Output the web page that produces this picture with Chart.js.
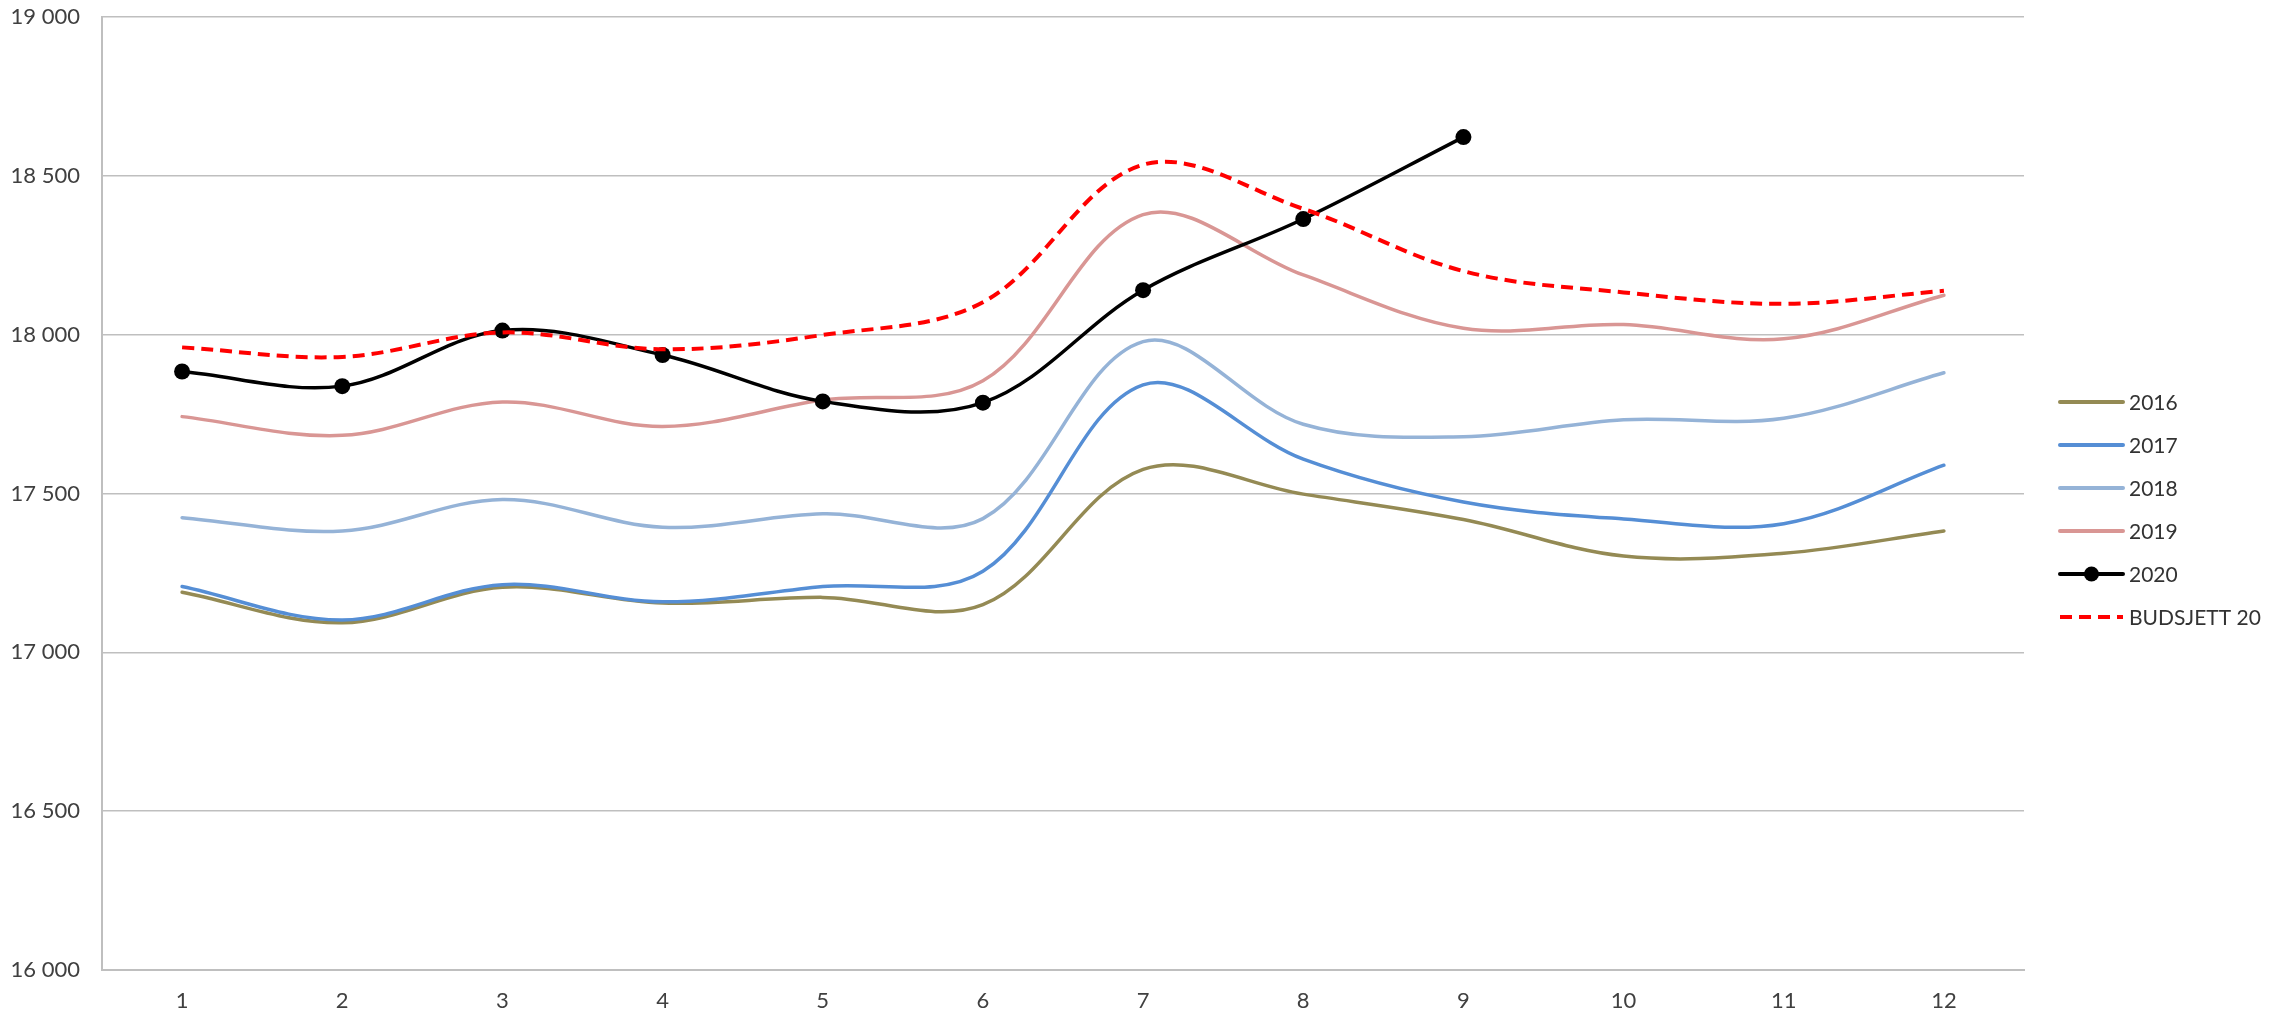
<!DOCTYPE html>
<html><head><meta charset="utf-8">
<script src="https://cdn.jsdelivr.net/npm/chart.js@4.4.0/dist/chart.umd.min.js"></script>
<style>html,body{margin:0;padding:0;background:#fff;overflow:hidden}</style>
</head><body>
<canvas id="c" width="2280" height="1013" style="width:2280px;height:1013px;display:block"></canvas>
<script>
const months = ['1','2','3','4','5','6','7','8','9','10','11','12'];
const y2016 = [17189, 17093, 17205, 17155, 17173, 17150, 17576, 17498, 17418, 17303, 17312, 17382];
const y2017 = [17207, 17102, 17213, 17159, 17207, 17255, 17842, 17608, 17473, 17420, 17405, 17589];
const y2018 = [17424, 17382, 17481, 17394, 17436, 17421, 17978, 17718, 17679, 17732, 17737, 17880];
const y2019 = [17742, 17683, 17788, 17711, 17794, 17855, 18378, 18188, 18020, 18032, 17987, 18124];
const y2020 = [17884, 17838, 18013, 17936, 17790, 17786, 18140, 18364, 18622, null, null, null];
const budsjett20 = [17960, 17930, 18007, 17954, 17999, 18102, 18535, 18396, 18200, 18133, 18097, 18138];
const seriesLabels = ['2016','2017','2018','2019','2020','BUDSJETT 20'];
const yMin = 16000, yMax = 19000, yStep = 500;

const fmt = v => String(v).replace(/\B(?=(\d{3})+(?!\d))/g, ' ');

const legendPlugin = {
  id: 'customLegend',
  afterDraw(chart) {
    const ctx = chart.ctx;
    const x0 = chart.chartArea.right + 36;
    const lineLen = 63;
    const y0 = 402, step = 43;
    chart.data.datasets.forEach((ds, i) => {
      const y = y0 + i * step;
      ctx.save();
      ctx.strokeStyle = ds.borderColor;
      ctx.lineWidth = 4;
      ctx.setLineDash(ds.borderDash || []);
      ctx.lineCap = ds.borderDash ? 'butt' : 'round';
      ctx.beginPath(); ctx.moveTo(x0, y); ctx.lineTo(x0 + lineLen, y); ctx.stroke();
      if (ds.pointRadius > 0) {
        ctx.setLineDash([]);
        ctx.fillStyle = ds.pointBackgroundColor;
        ctx.beginPath(); ctx.arc(x0 + lineLen / 2, y, 7.5, 0, Math.PI * 2); ctx.fill();
      }
      ctx.fillStyle = '#333333';
      ctx.font = '21px Lato';
      ctx.textBaseline = 'middle';
      ctx.textAlign = 'left';
      ctx.fillText(ds.label, x0 + lineLen + 6, y + 1);
      ctx.restore();
    });
  }
};

const base = { fill: false, tension: 0.35, borderWidth: 3.5, pointRadius: 0, pointHoverRadius: 0, borderCapStyle: 'round', borderJoinStyle: 'round' };

new Chart(document.getElementById('c'), {
  type: 'line',
  data: {
    labels: months,
    datasets: [
      Object.assign({}, base, { label: seriesLabels[0], data: y2016, borderColor: '#948A54', order: 6 }),
      Object.assign({}, base, { label: seriesLabels[1], data: y2017, borderColor: '#558ED5', order: 5 }),
      Object.assign({}, base, { label: seriesLabels[2], data: y2018, borderColor: '#95B3D7', order: 4 }),
      Object.assign({}, base, { label: seriesLabels[3], data: y2019, borderColor: '#D99694', order: 3 }),
      Object.assign({}, base, { label: seriesLabels[4], data: y2020, borderColor: '#000000', pointRadius: 8, pointBackgroundColor: '#000000', pointBorderColor: '#000000', pointBorderWidth: 0, order: 2 }),
      Object.assign({}, base, { label: seriesLabels[5], data: budsjett20, borderColor: '#FF0000', borderDash: [12, 7], borderCapStyle: 'butt', borderWidth: 4, order: 1 })
    ]
  },
  options: {
    responsive: false,
    animation: false,
    layout: { padding: { top: 17, right: 256, bottom: 0, left: 0 } },
    plugins: { legend: { display: false }, tooltip: { enabled: false } },
    scales: {
      x: {
        type: 'category',
        offset: true,
        grid: { display: false, drawTicks: false },
        border: { display: true, color: '#BFBFBF', width: 2 },
        ticks: { color: '#404040', font: { family: 'Lato', size: 22 }, padding: 18, maxRotation: 0, autoSkip: false },
        afterFit(scale) { scale.height = 43; scale.paddingLeft = 0; scale.paddingRight = 0; }
      },
      y: {
        min: yMin, max: yMax,
        grid: { color: '#BFBFBF', lineWidth: 1.5, drawTicks: false },
        border: { display: true, color: '#BFBFBF', width: 2 },
        ticks: { stepSize: yStep, color: '#404040', font: { family: 'Lato', size: 22 }, padding: 22, callback: v => fmt(v) },
        afterFit(scale) { scale.width = 102; scale.paddingTop = 0; scale.paddingBottom = 0; }
      }
    }
  },
  plugins: [legendPlugin]
});
</script>
</body></html>
